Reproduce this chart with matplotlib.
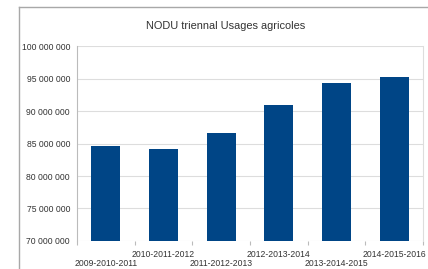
import matplotlib.pyplot as plt
import numpy as np

periodes = ["2009-2010-2011", "2010-2011-2012", "2011-2012-2013",
            "2012-2013-2014", "2013-2014-2015", "2014-2015-2016"]
nodu = [84.6e6, 84.2e6, 86.6e6, 90.9e6, 94.3e6, 95.2e6]
yticks = [70e6, 75e6, 80e6, 85e6, 90e6, 95e6, 100e6]

plt.rcParams['font.family'] = ['Liberation Sans', 'DejaVu Sans']

fig = plt.figure(figsize=(4.28, 2.69), dpi=100)
W, H = 428.0, 269.0

# outer frame (chart border)
fig.add_artist(plt.Line2D([19/W, 1], [1 - 7/H, 1 - 7/H], color='#a8a8a8', lw=1))
fig.add_artist(plt.Line2D([19/W, 19/W], [0, 1 - 7/H], color='#a8a8a8', lw=1))

ax = fig.add_axes([77/W, 1 - 241/H, 346/W, 195/H])
x = np.arange(len(periodes))
ax.bar(x, nodu, width=0.5, color='#004586', zorder=3)

ax.set_xlim(-0.5, len(periodes) - 0.5)
ax.set_ylim(70e6, 100e6)
ax.set_yticks(yticks)
ax.set_yticklabels(['{:,.0f}'.format(v).replace(',', ' ') for v in yticks],
                   fontsize=6.2, color='#333333')
ax.tick_params(axis='y', length=0, pad=5)
ax.grid(axis='y', color='#dddddd', lw=0.8, zorder=0)

ax.set_xticks(np.arange(-0.5, len(periodes)))
ax.set_xticklabels([])
ax.tick_params(axis='x', length=3, color='#bbbbbb')
for i, p in enumerate(periodes):
    yy = -0.07 if i % 2 == 1 else -0.115
    ax.text(i, yy, p, transform=ax.get_xaxis_transform(), ha='center',
            va='center', fontsize=6.2, color='#333333')

for s in ['top', 'bottom']:
    ax.spines[s].set_visible(False)
ax.spines['left'].set_color('#bbbbbb')
ax.spines['right'].set_color('#dddddd')

fig.text(226/W, 1 - 26/H, 'NODU triennal Usages agricoles', ha='center',
         va='center', fontsize=7.9, color='#333333')

fig.savefig('out.png', dpi=100)
